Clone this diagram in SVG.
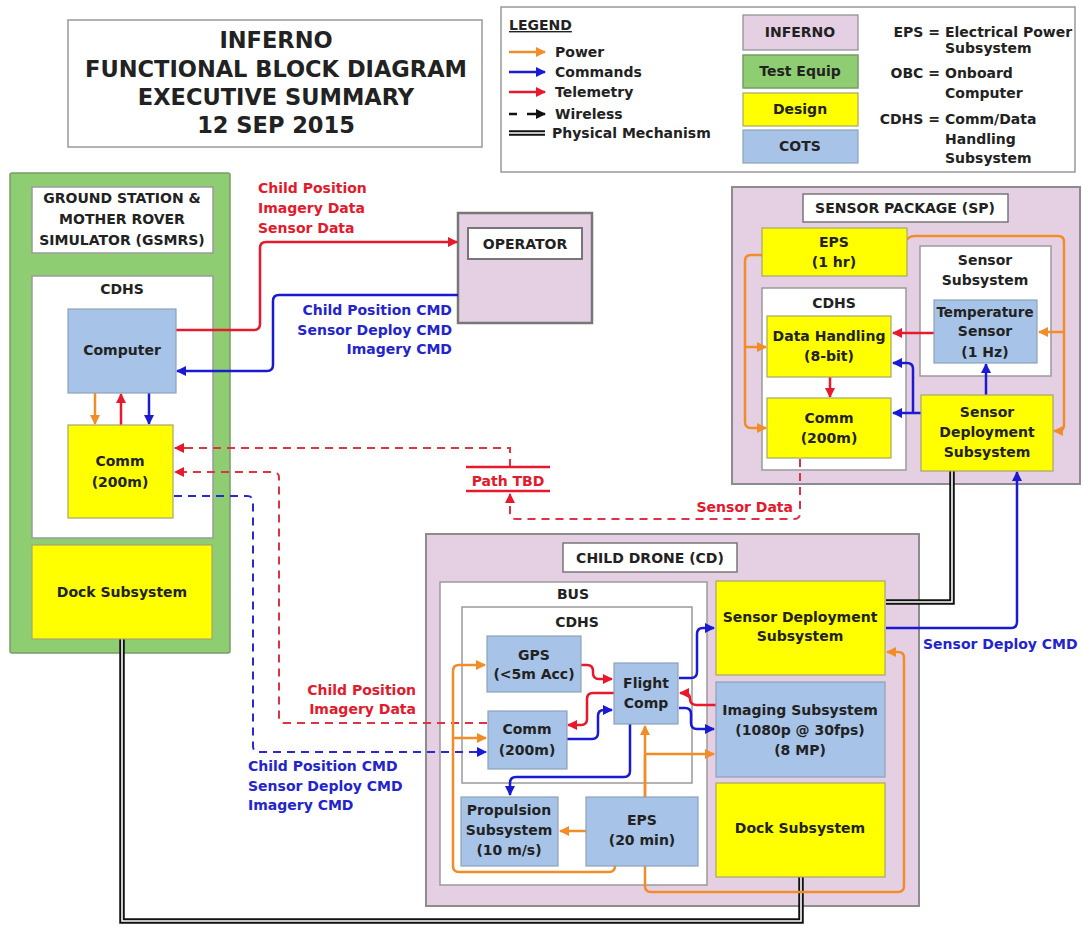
<svg xmlns="http://www.w3.org/2000/svg" width="1083" height="927" viewBox="0 0 1083 927">
<defs>
<style>
.t{font-family:"DejaVu Sans",Verdana,sans-serif;font-weight:bold;font-size:14px;fill:#222;text-anchor:middle}
.s{text-anchor:start}.e{text-anchor:end}
.ttl{font-size:22.5px}
.rt{fill:#e3192c}.bt{fill:#2424cc}
.pink{fill:#e5d0e3;stroke:#8c8c8c;stroke-width:2}
.white{fill:#fff;stroke:#9a9a9a;stroke-width:1.5}
.yel{fill:#ffff00;stroke:#a6a66e;stroke-width:1.2}
.blu{fill:#a7c4e8;stroke:#8ea2b8;stroke-width:1.2}
.grn{fill:#8fcd72;stroke:#7a9a6a;stroke-width:1.5}
.po{fill:none;stroke:#f28c28;stroke-width:2.5;marker-end:url(#aO)}
.cm{fill:none;stroke:#1a1ad2;stroke-width:2.5;marker-end:url(#aB)}
.tl{fill:none;stroke:#e8192c;stroke-width:2.5;marker-end:url(#aR)}
.dr{fill:none;stroke:#dd3344;stroke-width:2;stroke-dasharray:8 6;marker-end:url(#aR)}
.db{fill:none;stroke:#2a2acc;stroke-width:2;stroke-dasharray:8 6;marker-end:url(#aB)}
.ph1{fill:none;stroke:#111;stroke-width:5.5}
.ph2{fill:none;stroke:#fff;stroke-width:1.6}
.nm{marker-end:none}
</style>
<marker id="aO" viewBox="0 0 10 10" refX="9" refY="5" markerWidth="10" markerHeight="10" markerUnits="userSpaceOnUse" orient="auto"><path d="M0,0 L10,5 L0,10 z" fill="#f28c28"/></marker>
<marker id="aB" viewBox="0 0 10 10" refX="9" refY="5" markerWidth="10" markerHeight="10" markerUnits="userSpaceOnUse" orient="auto"><path d="M0,0 L10,5 L0,10 z" fill="#1a1ad2"/></marker>
<marker id="aR" viewBox="0 0 10 10" refX="9" refY="5" markerWidth="10" markerHeight="10" markerUnits="userSpaceOnUse" orient="auto"><path d="M0,0 L10,5 L0,10 z" fill="#e8192c"/></marker>
<marker id="aK" viewBox="0 0 10 10" refX="9" refY="5" markerWidth="10" markerHeight="10" markerUnits="userSpaceOnUse" orient="auto"><path d="M0,0 L10,5 L0,10 z" fill="#111"/></marker>
</defs>
<rect width="1083" height="927" fill="#fff"/>

<g id="title">
<rect x="68" y="20" width="414" height="127" fill="#fff" stroke="#999" stroke-width="1.5"/>
<text class="t ttl" x="276" y="48">INFERNO</text>
<text class="t ttl" x="276" y="77">FUNCTIONAL BLOCK DIAGRAM</text>
<text class="t ttl" x="276" y="105">EXECUTIVE SUMMARY</text>
<text class="t ttl" x="276" y="133">12 SEP 2015</text>
</g>

<g id="legend">
<rect x="501" y="7" width="574" height="165" fill="#fff" stroke="#999" stroke-width="1.5"/>
<text class="t s" x="509" y="30" text-decoration="underline">LEGEND</text>
<path class="po" d="M509,52 H545"/><text class="t s" x="555" y="57">Power</text>
<path class="cm" d="M509,72 H545"/><text class="t s" x="555" y="77">Commands</text>
<path class="tl" d="M509,92 H545"/><text class="t s" x="555" y="97">Telemetry</text>
<path d="M509,114 H517" stroke="#111" stroke-width="2.5"/><path d="M527,114 H545" stroke="#111" stroke-width="2.5" marker-end="url(#aK)"/><text class="t s" x="555" y="119">Wireless</text>
<path class="ph1" d="M509,133 H545"/><path class="ph2" d="M509,133 H545"/><text class="t s" x="552" y="138">Physical Mechanism</text>
<rect class="pink" x="743" y="15" width="115" height="35" style="stroke-width:1.2"/><text class="t" x="800" y="37">INFERNO</text>
<rect class="grn" x="743" y="55" width="115" height="33"/><text class="t" x="800" y="76">Test Equip</text>
<rect class="yel" x="743" y="93" width="115" height="33"/><text class="t" x="800" y="114">Design</text>
<rect class="blu" x="743" y="130" width="115" height="33"/><text class="t" x="800" y="151">COTS</text>
<text class="t e" x="940" y="37">EPS =</text><text class="t s" x="945" y="37">Electrical Power</text>
<text class="t s" x="945" y="53">Subsystem</text>
<text class="t e" x="940" y="78">OBC =</text><text class="t s" x="945" y="78">Onboard</text>
<text class="t s" x="945" y="98">Computer</text>
<text class="t e" x="940" y="124">CDHS =</text><text class="t s" x="945" y="124">Comm/Data</text>
<text class="t s" x="945" y="144">Handling</text>
<text class="t s" x="945" y="163">Subsystem</text>
</g>

<g id="gsmrs">
<rect class="grn" x="10" y="173" width="220" height="480" rx="2"/>
<rect class="white" x="32" y="187" width="181" height="66"/>
<text class="t" x="122" y="203">GROUND STATION &amp;</text>
<text class="t" x="122" y="224">MOTHER ROVER</text>
<text class="t" x="122" y="245">SIMULATOR (GSMRS)</text>
</g>
<g id="gs-cdhs">
<rect class="white" x="32" y="276" width="181" height="262"/>
<text class="t" x="122" y="294">CDHS</text>
</g>
<g id="operator">
<rect class="pink" x="458" y="213" width="134" height="110" style="stroke:#777;stroke-width:2.5"/>
<rect class="white" x="468" y="228" width="114" height="31" style="stroke:#777;stroke-width:2"/>
<text class="t" x="525" y="249">OPERATOR</text>
</g>
<g id="sp">
<rect class="pink" x="732" y="187" width="348" height="297"/>
<rect class="white" x="803" y="194" width="205" height="28" style="stroke:#777"/>
<text class="t" x="905" y="213">SENSOR PACKAGE (SP)</text>
</g>
<g id="sp-cdhs">
<rect class="white" x="762" y="288" width="144" height="182"/>
<text class="t" x="834" y="308">CDHS</text>
</g>
<g id="sp-sensor-subsystem">
<rect class="white" x="920" y="246" width="131" height="130"/>
<text class="t" x="985" y="265">Sensor</text>
<text class="t" x="985" y="285">Subsystem</text>
</g>
<g id="cd">
<rect class="pink" x="426" y="534" width="493" height="372"/>
<rect class="white" x="563" y="543" width="174" height="29" style="stroke:#777"/>
<text class="t" x="650" y="563">CHILD DRONE (CD)</text>
</g>
<g id="cd-bus">
<rect class="white" x="440" y="582" width="267" height="303"/>
<text class="t" x="573" y="599">BUS</text>
</g>
<g id="cd-cdhs">
<rect class="white" x="462" y="607" width="230" height="176"/>
<text class="t" x="577" y="627">CDHS</text>
</g>

<g id="connectors">
<path class="po" d="M95,393 V424"/>
<path class="tl" d="M121,425 V394"/>
<path class="cm" d="M149,393 V424"/>
<path class="tl" d="M176,330 H254 Q260,330 260,324 V248 Q260,242 266,242 H457"/>
<path class="cm" d="M458,295 H279 Q273,295 273,301 V365 Q273,371 267,371 H177"/>
<path class="dr nm" d="M510,467 V448 H190"/>
<path class="dr" d="M190,448 H175"/>
<path class="dr" d="M800,459 V513 Q800,519 794,519 H516 Q510,519 510,513 V494"/>
<path class="dr" d="M487,723 H285 Q279,723 279,717 V478 Q279,472 273,472 H175"/>
<path class="db" d="M174,496 H247 Q253,496 253,502 V746 Q253,752 259,752 H486"/>
<path d="M466,467 H550 M466,491 H550" stroke="#e8192c" stroke-width="2.5" fill="none"/>
<path class="ph1" d="M122,639 V921 H801 V877"/><path class="ph2" d="M122,639 V921 H801 V877"/>
<path class="ph1" d="M952,471 V602 H886"/><path class="ph2" d="M952,471 V602 H886"/>
<path class="cm" d="M886,628 H1011 Q1017,628 1017,622 V472"/>
<path class="tl" d="M934,333 H893"/>
<path class="tl" d="M830,377 V397"/>
<path class="cm" d="M921,413 H893"/>
<path class="cm" d="M913,413 V369 Q913,363 907,363 H893"/>
<path class="cm" d="M986,395 V364"/>
<path class="po" d="M762,255 H751 Q745,255 745,261 V422 Q745,428 751,428 H766"/>
<path class="po" d="M745,347 H766"/>
<path class="po" d="M907,240 Q909,236 915,236 H1058 Q1064,236 1064,242 V425 Q1064,431 1058,431 H1054"/>
<path class="po" d="M1064,332 H1039"/>
<path class="tl" d="M581,665 H587 Q593,665 593,671 V673 Q593,679 599,679 H612"/>
<path class="tl" d="M614,693 H593 Q587,693 587,699 V719 Q587,725 581,725 H568"/>
<path class="cm" d="M567,739 H592 Q598,739 598,733 V716 Q598,710 604,710 H612"/>
<path class="cm" d="M679,678 H691 Q697,678 697,672 V634 Q697,628 703,628 H714"/>
<path class="tl" d="M716,705 H697 Q690,705 690,699 Q690,693 684,693 H680"/>
<path class="cm" d="M679,708 H685 Q691,708 691,714 V723 Q691,729 697,729 H714"/>
<path class="cm" d="M630,724 V771 Q630,777 624,777 H516 Q510,777 510,783 V795"/>
<path class="po" d="M645,797 V726"/>
<path class="po" d="M645,754 H714"/>
<path class="po" d="M645,755 V886 Q645,892 651,892 H898 Q904,892 904,886 V658 Q904,652 898,652 H887"/>
<path class="po" d="M586,831 H560"/>
<path class="po" d="M615,866 Q615,872 609,872 H459 Q453,872 453,866 V671 Q453,665 459,665 H485"/>
<path class="po" d="M453,738 H486"/>
<text class="t s rt" x="258" y="193">Child Position</text>
<text class="t s rt" x="258" y="213">Imagery Data</text>
<text class="t s rt" x="258" y="233">Sensor Data</text>
<text class="t e bt" x="452" y="315">Child Position CMD</text>
<text class="t e bt" x="452" y="335">Sensor Deploy CMD</text>
<text class="t e bt" x="452" y="354">Imagery CMD</text>
<text class="t rt" x="508" y="486">Path TBD</text>
<text class="t e rt" x="793" y="512">Sensor Data</text>
<text class="t e rt" x="416" y="695">Child Position</text>
<text class="t e rt" x="416" y="714">Imagery Data</text>
<text class="t s bt" x="248" y="771">Child Position CMD</text>
<text class="t s bt" x="248" y="791">Sensor Deploy CMD</text>
<text class="t s bt" x="248" y="810">Imagery CMD</text>
<text class="t s bt" x="923" y="649">Sensor Deploy CMD</text>
</g>

<g id="gs-computer"><rect class="blu" x="68" y="309" width="108" height="84"/><text class="t" x="122" y="355">Computer</text></g>
<g id="gs-comm"><rect class="yel" x="68" y="425" width="105" height="93"/><text class="t" x="120" y="466">Comm</text><text class="t" x="120" y="487">(200m)</text></g>
<g id="gs-dock"><rect class="yel" x="32" y="545" width="180" height="94"/><text class="t" x="122" y="597">Dock Subsystem</text></g>

<g id="sp-eps"><rect class="yel" x="762" y="228" width="145" height="48"/><text class="t" x="834" y="247">EPS</text><text class="t" x="834" y="267">(1 hr)</text></g>
<g id="sp-data-handling"><rect class="yel" x="767" y="316" width="124" height="61"/><text class="t" x="829" y="341">Data Handling</text><text class="t" x="829" y="361">(8-bit)</text></g>
<g id="sp-comm"><rect class="yel" x="767" y="398" width="124" height="60"/><text class="t" x="829" y="423">Comm</text><text class="t" x="829" y="443">(200m)</text></g>
<g id="sp-temp"><rect class="blu" x="934" y="300" width="103" height="63"/><text class="t" x="985" y="317" style="font-size:13.5px">Temperature</text><text class="t" x="985" y="336">Sensor</text><text class="t" x="985" y="357">(1 Hz)</text></g>
<g id="sp-sensor-deploy"><rect class="yel" x="921" y="395" width="132" height="76"/><text class="t" x="987" y="417">Sensor</text><text class="t" x="987" y="437">Deployment</text><text class="t" x="987" y="457">Subsystem</text></g>

<g id="cd-gps"><rect class="blu" x="487" y="636" width="94" height="56"/><text class="t" x="534" y="660">GPS</text><text class="t" x="534" y="679">(&lt;5m Acc)</text></g>
<g id="cd-flight-comp"><rect class="blu" x="614" y="663" width="64" height="61"/><text class="t" x="646" y="688">Flight</text><text class="t" x="646" y="708">Comp</text></g>
<g id="cd-comm"><rect class="blu" x="488" y="711" width="79" height="58"/><text class="t" x="527" y="734">Comm</text><text class="t" x="527" y="755">(200m)</text></g>
<g id="cd-propulsion"><rect class="blu" x="461" y="797" width="97" height="69"/><text class="t" x="509" y="815">Propulsion</text><text class="t" x="509" y="835">Subsystem</text><text class="t" x="509" y="855">(10 m/s)</text></g>
<g id="cd-eps"><rect class="blu" x="586" y="797" width="112" height="69"/><text class="t" x="642" y="825">EPS</text><text class="t" x="642" y="845">(20 min)</text></g>
<g id="cd-sensor-deploy"><rect class="yel" x="716" y="581" width="169" height="94"/><text class="t" x="800" y="622">Sensor Deployment</text><text class="t" x="800" y="641">Subsystem</text></g>
<g id="cd-imaging"><rect class="blu" x="716" y="682" width="169" height="95"/><text class="t" x="800" y="715">Imaging Subsystem</text><text class="t" x="800" y="735">(1080p @ 30fps)</text><text class="t" x="800" y="755">(8 MP)</text></g>
<g id="cd-dock"><rect class="yel" x="716" y="783" width="169" height="94"/><text class="t" x="800" y="833">Dock Subsystem</text></g>
</svg>
